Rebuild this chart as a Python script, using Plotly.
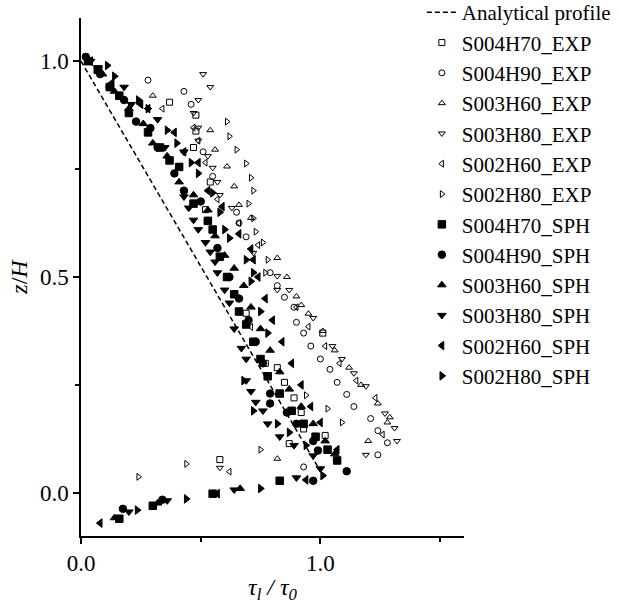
import plotly.graph_objects as go

# ---------------- data ----------------
analytic_tau = [0.0, 1.0]
analytic_z = [1.0, 0.05]

# EXP (hollow markers)
s004h70_exp_tau = [0.37, 0.48, 0.48, 0.47, 0.54, 0.52, 0.69, 0.77, 0.82, 0.85, 0.89, 0.92, 0.93, 0.87, 1.01, 1.02, 0.58]
s004h70_exp_z = [0.905, 0.875, 0.838, 0.80, 0.72, 0.656, 0.416, 0.30, 0.29, 0.256, 0.22, 0.186, 0.148, 0.114, 0.37, 0.133, 0.077]

s004h90_exp_tau = [0.28, 0.43, 0.46, 0.51, 0.55, 0.65, 0.66, 0.69, 0.79, 0.82, 0.85, 0.89, 0.90, 0.93, 0.96, 1.00, 1.04, 1.07, 1.11, 1.14, 1.21, 1.24, 1.28, 1.24, 0.93]
s004h90_exp_z = [0.956, 0.93, 0.90, 0.79, 0.733, 0.65, 0.625, 0.593, 0.51, 0.48, 0.453, 0.43, 0.395, 0.37, 0.34, 0.31, 0.286, 0.256, 0.228, 0.20, 0.172, 0.144, 0.116, 0.088, 0.06]

s003h60_exp_tau = [0.30, 0.54, 0.56, 0.61, 0.64, 0.66, 0.71, 0.82, 0.86, 0.90, 0.92, 0.95, 1.01, 1.06, 1.12, 1.17, 1.24, 1.29, 1.28, 1.20, 0.82]
s003h60_exp_z = [0.92, 0.84, 0.795, 0.756, 0.71, 0.667, 0.637, 0.544, 0.50, 0.455, 0.435, 0.415, 0.375, 0.33, 0.29, 0.25, 0.207, 0.175, 0.163, 0.12, 0.079]

s003h80_exp_tau = [0.51, 0.54, 0.49, 0.47, 0.49, 0.49, 0.53, 0.55, 0.57, 0.58, 0.63, 0.72, 0.82, 0.82, 0.87, 0.97, 1.05, 1.09, 1.14, 1.19, 1.27, 1.31, 1.32, 1.19, 0.58]
s003h80_exp_z = [0.97, 0.94, 0.91, 0.88, 0.846, 0.816, 0.78, 0.753, 0.72, 0.69, 0.66, 0.556, 0.502, 0.47, 0.47, 0.405, 0.34, 0.31, 0.277, 0.247, 0.184, 0.15, 0.12, 0.088, 0.058]

s002h60_exp_tau = [0.34, 0.47, 0.49, 0.52, 0.57, 0.66, 0.74, 0.90, 0.95, 1.02, 1.08, 1.15, 1.23, 1.26, 0.71, 0.62]
s002h60_exp_z = [0.89, 0.846, 0.816, 0.765, 0.68, 0.625, 0.574, 0.43, 0.385, 0.34, 0.30, 0.26, 0.22, 0.135, 0.384, 0.049]

s002h80_exp_tau = [0.61, 0.62, 0.65, 0.69, 0.71, 0.72, 0.70, 0.72, 0.73, 0.76, 0.78, 0.77, 0.94, 1.03, 1.09, 0.75, 0.44, 0.24]
s002h80_exp_z = [0.86, 0.826, 0.795, 0.763, 0.73, 0.70, 0.67, 0.636, 0.605, 0.58, 0.54, 0.51, 0.226, 0.195, 0.163, 0.10, 0.067, 0.037]

# SPH (solid markers)
s004h70_sph_tau = [0.03, 0.07, 0.12, 0.16, 0.20, 0.28, 0.33, 0.37, 0.41, 0.47, 0.53, 0.55, 0.58, 0.61, 0.64, 0.66, 0.69, 0.72, 0.75, 0.78, 0.83, 0.88, 0.93, 0.98, 1.03, 1.07, 0.83, 0.55, 0.30, 0.16]
s004h70_sph_z = [1.00, 0.98, 0.94, 0.92, 0.88, 0.835, 0.80, 0.77, 0.755, 0.67, 0.63, 0.61, 0.547, 0.50, 0.46, 0.42, 0.39, 0.35, 0.31, 0.27, 0.23, 0.19, 0.16, 0.13, 0.10, 0.075, 0.028, -0.002, -0.03, -0.06]

s004h90_sph_tau = [0.02, 0.08, 0.12, 0.18, 0.23, 0.29, 0.32, 0.39, 0.43, 0.50, 0.53, 0.57, 0.62, 0.66, 0.70, 0.73, 0.76, 0.79, 0.79, 0.86, 0.90, 0.97, 0.99, 1.11, 0.97, 0.34, 0.175]
s004h90_sph_z = [1.01, 0.97, 0.94, 0.91, 0.86, 0.845, 0.80, 0.74, 0.70, 0.675, 0.63, 0.567, 0.50, 0.45, 0.40, 0.35, 0.30, 0.23, 0.207, 0.186, 0.16, 0.12, 0.098, 0.05, 0.028, -0.016, -0.037]

s003h60_sph_tau = [0.03, 0.09, 0.14, 0.20, 0.26, 0.30, 0.36, 0.41, 0.47, 0.53, 0.56, 0.60, 0.64, 0.68, 0.71, 0.75, 0.79, 0.83, 0.87, 0.92, 0.97, 1.02, 1.06, 0.665, 0.32, 0.14]
s003h60_sph_z = [1.00, 0.97, 0.93, 0.89, 0.855, 0.81, 0.78, 0.72, 0.69, 0.655, 0.595, 0.55, 0.52, 0.48, 0.43, 0.38, 0.33, 0.28, 0.24, 0.20, 0.16, 0.12, 0.09, 0.01, -0.024, -0.058]

s003h80_sph_tau = [0.04, 0.07, 0.18, 0.21, 0.32, 0.35, 0.43, 0.43, 0.45, 0.47, 0.49, 0.52, 0.54, 0.56, 0.57, 0.60, 0.62, 0.64, 0.67, 0.69, 0.69, 0.71, 0.73, 0.76, 0.78, 0.83, 0.89, 0.97, 1.00, 0.90, 0.64, 0.36, 0.20]
s003h80_sph_z = [1.00, 0.985, 0.94, 0.90, 0.865, 0.80, 0.79, 0.686, 0.66, 0.632, 0.61, 0.58, 0.558, 0.535, 0.51, 0.47, 0.44, 0.38, 0.335, 0.31, 0.26, 0.235, 0.21, 0.19, 0.16, 0.13, 0.11, 0.086, 0.056, 0.035, 0.007, -0.018, -0.044]

s002h60_sph_tau = [0.04, 0.08, 0.13, 0.25, 0.28, 0.39, 0.43, 0.49, 0.53, 0.59, 0.66, 0.71, 0.72, 0.74, 0.77, 0.80, 0.84, 0.88, 0.92, 0.96, 1.00, 1.07, 0.94, 0.57, 0.08]
s002h60_sph_z = [1.00, 0.98, 0.95, 0.90, 0.89, 0.835, 0.79, 0.765, 0.70, 0.663, 0.60, 0.565, 0.54, 0.50, 0.45, 0.40, 0.35, 0.30, 0.25, 0.20, 0.163, 0.10, 0.03, -0.002, -0.07]

s002h80_sph_tau = [0.11, 0.14, 0.24, 0.28, 0.36, 0.40, 0.46, 0.49, 0.55, 0.58, 0.60, 0.62, 0.69, 0.72, 0.71, 0.75, 0.78, 0.68, 0.72, 0.82, 0.87, 0.94, 1.01, 0.75, 0.44, 0.235]
s002h80_sph_z = [0.99, 0.965, 0.91, 0.89, 0.84, 0.81, 0.765, 0.74, 0.695, 0.65, 0.61, 0.59, 0.54, 0.51, 0.49, 0.42, 0.37, 0.26, 0.19, 0.16, 0.14, 0.11, 0.04, 0.01, -0.014, -0.04]

series = [
    ("S004H70_EXP", s004h70_exp_tau, s004h70_exp_z, "square-open"),
    ("S004H90_EXP", s004h90_exp_tau, s004h90_exp_z, "circle-open"),
    ("S003H60_EXP", s003h60_exp_tau, s003h60_exp_z, "triangle-up-open"),
    ("S003H80_EXP", s003h80_exp_tau, s003h80_exp_z, "triangle-down-open"),
    ("S002H60_EXP", s002h60_exp_tau, s002h60_exp_z, "triangle-left-open"),
    ("S002H80_EXP", s002h80_exp_tau, s002h80_exp_z, "triangle-right-open"),
    ("S004H70_SPH", s004h70_sph_tau, s004h70_sph_z, "square"),
    ("S004H90_SPH", s004h90_sph_tau, s004h90_sph_z, "circle"),
    ("S003H60_SPH", s003h60_sph_tau, s003h60_sph_z, "triangle-up"),
    ("S003H80_SPH", s003h80_sph_tau, s003h80_sph_z, "triangle-down"),
    ("S002H60_SPH", s002h60_sph_tau, s002h60_sph_z, "triangle-left"),
    ("S002H80_SPH", s002h80_sph_tau, s002h80_sph_z, "triangle-right"),
]

FONT = "Liberation Serif, Times New Roman, serif"

fig = go.Figure()
fig.add_trace(go.Scatter(
    x=analytic_tau, y=analytic_z, mode="lines", name="Analytical profile",
    line=dict(color="black", width=1.5, dash="5px,3px"),
))
for name, xs, ys, sym in series:
    is_open = sym.endswith("open")
    fig.add_trace(go.Scatter(
        x=xs, y=ys, mode="markers", name=name,
        marker=dict(symbol=sym, size=6 if is_open else 7.5, color="black",
                    line=dict(color="black", width=1)),
    ))

fig.update_layout(
    width=619, height=604,
    margin=dict(l=81, r=155, t=18, b=68, autoexpand=False),
    paper_bgcolor="white", plot_bgcolor="white",
    font=dict(family=FONT, size=23, color="black"),
    showlegend=True,
    legend=dict(x=0.89, y=1.05, xanchor="left", yanchor="top",
                bgcolor="rgba(0,0,0,0)", font=dict(family=FONT, size=21),
                tracegroupgap=0, itemwidth=30, maxheight=600, traceorder="normal"),
    xaxis=dict(range=[0, 1.6], tickvals=[0, 1], ticktext=["0.0", "1.0"],
               showline=True, linecolor="black", linewidth=1.5,
               ticks="outside", ticklen=6, tickcolor="black", tickwidth=1.5,
               tickfont=dict(size=23),
               minor=dict(tickvals=[0.5, 1.5], ticks="outside", ticklen=4, tickcolor="black", tickwidth=1.5),
               showgrid=False, zeroline=False, mirror=False,
               title=dict(text="<i>τ<sub>l</sub> / τ<sub>0</sub></i>", font=dict(size=24), standoff=10)),
    yaxis=dict(range=[-0.1, 1.1], tickvals=[0, 0.5, 1.0], ticktext=["0.0", "0.5", "1.0"],
               showline=True, linecolor="black", linewidth=1.5,
               ticks="outside", ticklen=6, tickcolor="black", tickwidth=1.5,
               tickfont=dict(size=23),
               minor=dict(tickvals=[0.25, 0.75], ticks="outside", ticklen=4, tickcolor="black", tickwidth=1.5),
               showgrid=False, zeroline=False, mirror=False,
               title=dict(text="<i>z</i>/<i>H</i>", font=dict(size=24), standoff=6)),
)

fig.write_html("out.html")
